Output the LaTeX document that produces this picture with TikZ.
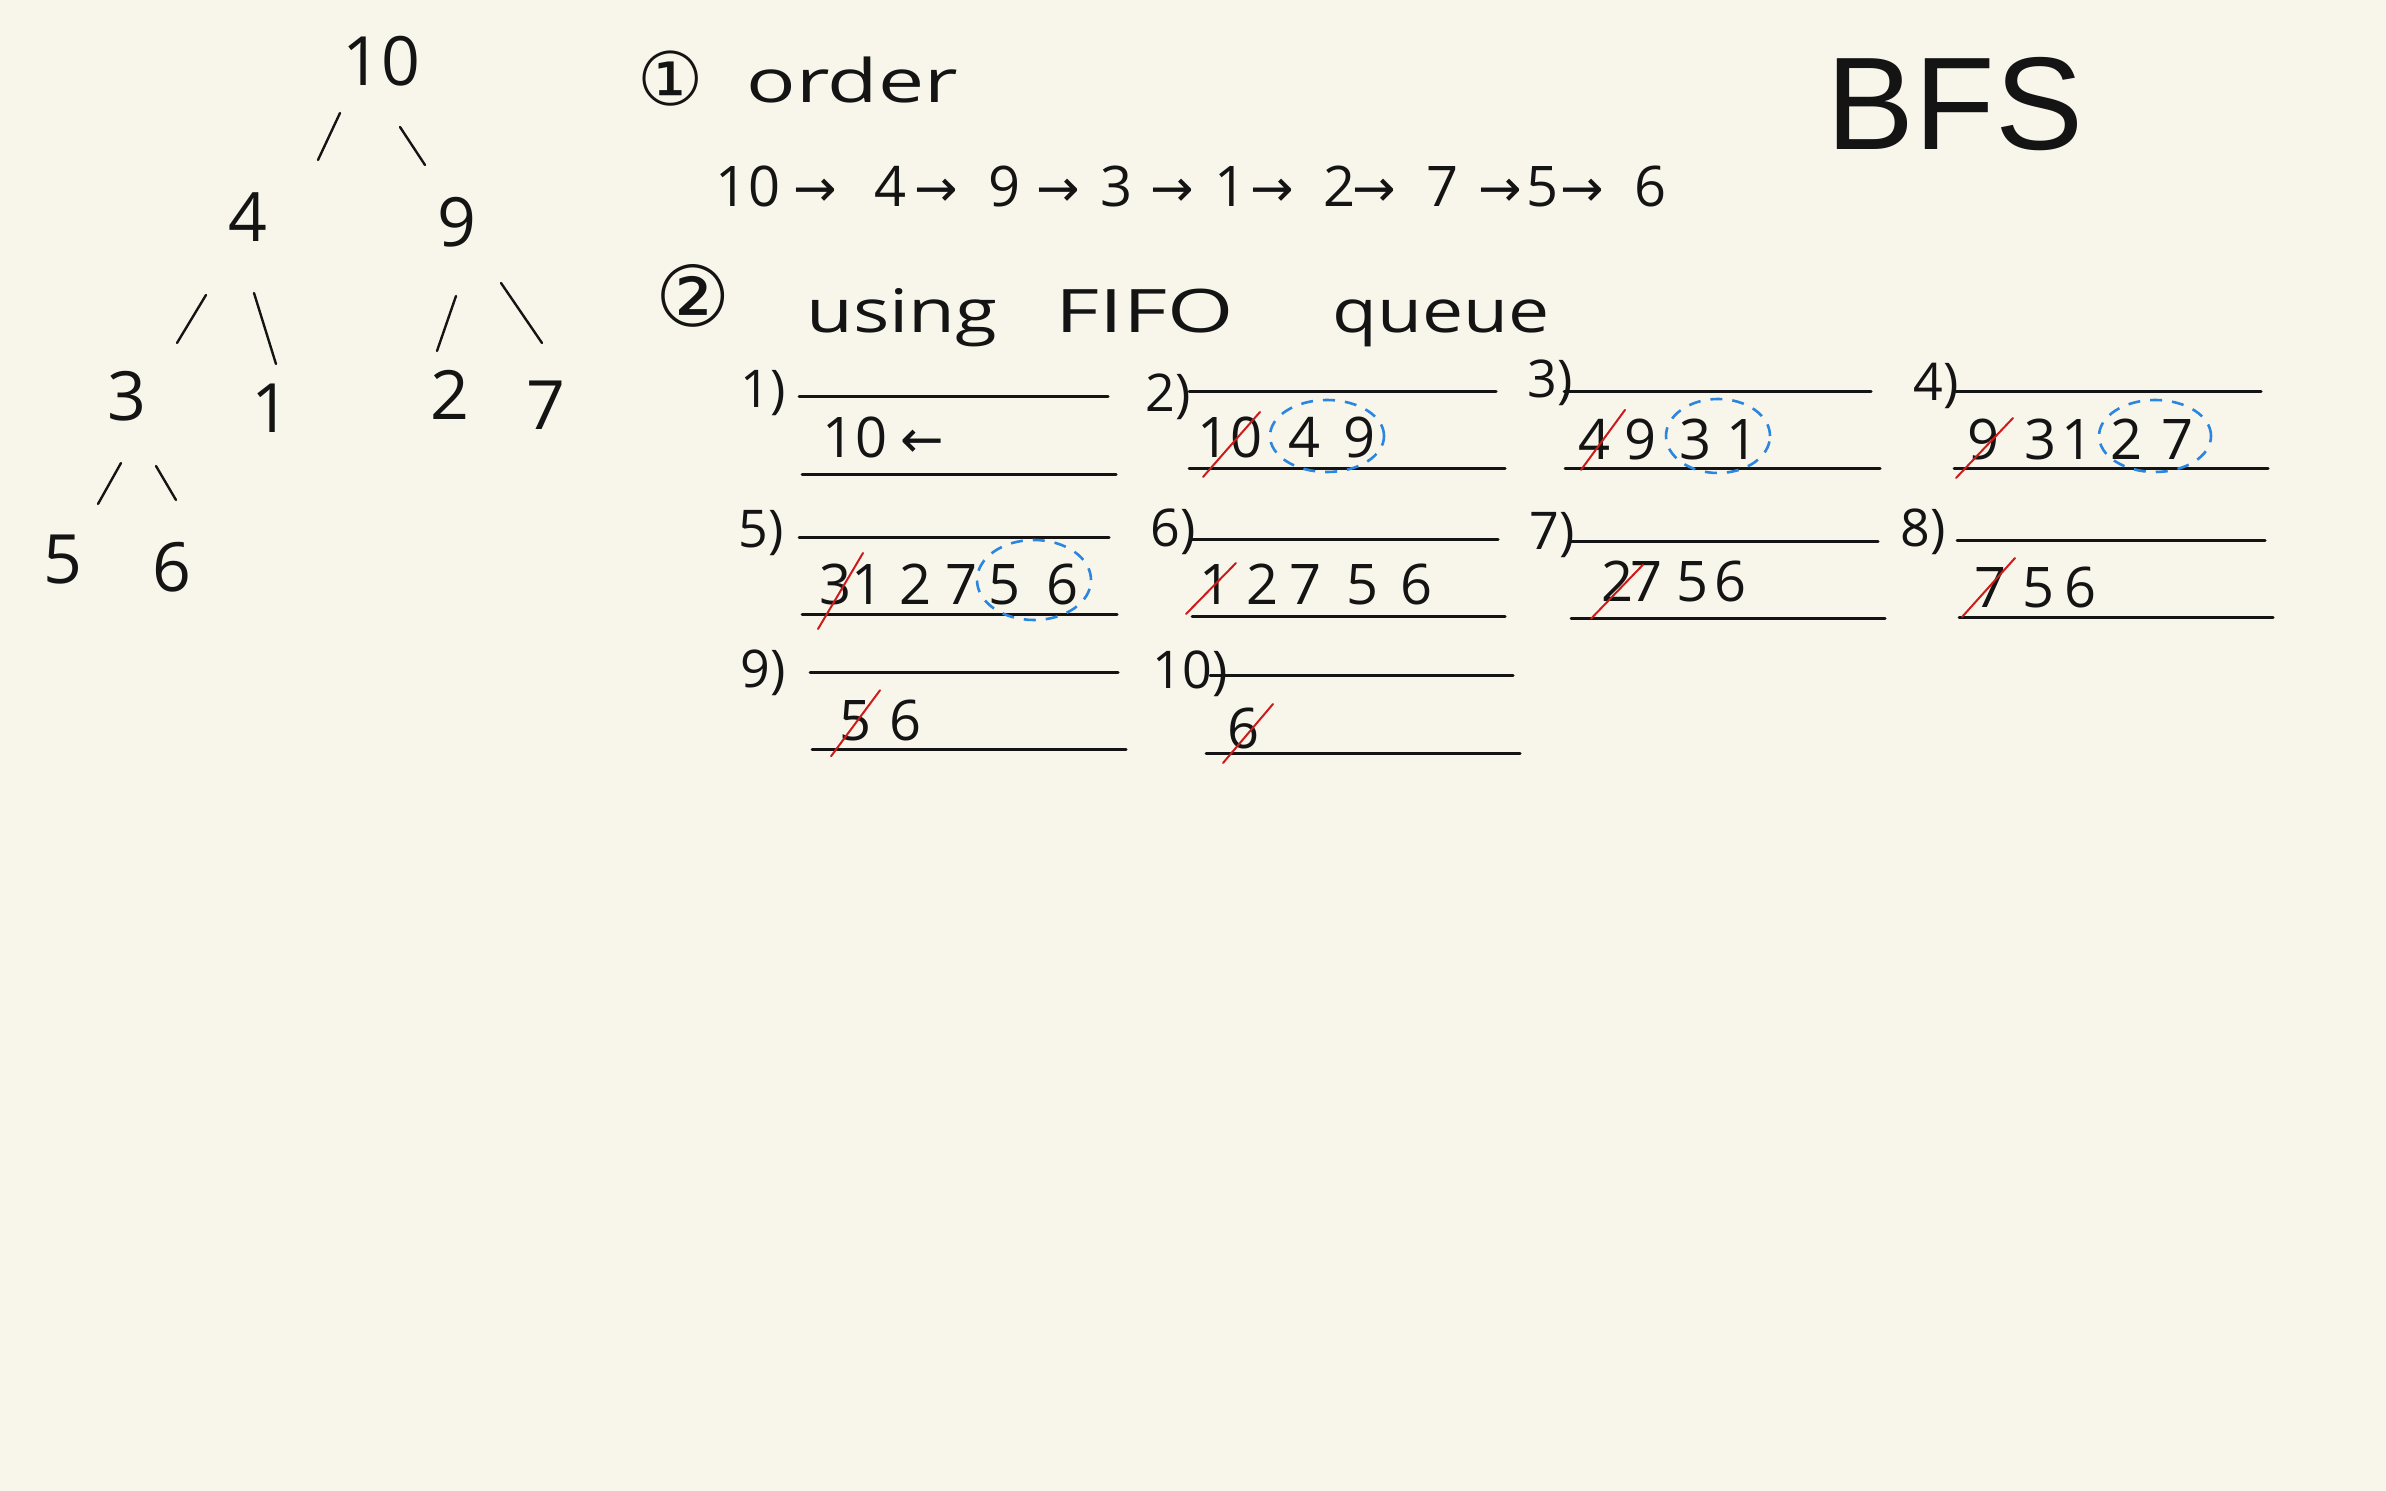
\documentclass[tikz,border=0pt]{standalone}
\usepackage{fontspec}
\setmainfont{Open Sans}
\newfontfamily\symf{DejaVu Sans}
\newfontfamily\titlef{Liberation Sans}
\usetikzlibrary{calc,shapes.geometric}
\definecolor{paper}{HTML}{F8F6EA}
\definecolor{ink}{HTML}{141414}
\definecolor{penred}{HTML}{CC1B1B}
\definecolor{penblue}{HTML}{2A86E0}
\begin{document}
\begin{tikzpicture}[x=0.5pt,y=-0.5pt,
  treenum/.style={inner sep=0pt,font=\fontsize{34}{40}\selectfont,text=ink},
  qnum/.style={inner sep=0pt,anchor=base,font=\fontsize{28}{34}\selectfont,text=ink},
  qarrow/.style={inner sep=0pt,anchor=base,font=\symf\fontsize{26}{32}\selectfont,text=ink},
  qlabel/.style={inner sep=0pt,font=\fontsize{26}{32}\selectfont,text=ink},
  word/.style={inner sep=0pt,anchor=base west,font=\fontsize{30}{36}\selectfont,text=ink},
  circnum/.style={inner sep=0pt,font=\symf\fontsize{37}{42}\selectfont,text=ink},
  qline/.style={draw=ink,line width=1.5pt,line cap=round},
  treeedge/.style={draw=ink,line width=1.2pt,line cap=round},
  strike/.style={draw=penred,line width=1pt,line cap=round},
  newitem/.style={ellipse,draw=penblue,dash pattern=on 6pt off 5pt,line width=1.3pt,inner sep=0pt},
]
\fill[paper] (0,0) rectangle (2386,1491);
\useasboundingbox (0,0) rectangle (2386,1491);

% ---------------- tree ----------------
\node[treenum] (n10) at (381,61) {10};
\node[treenum] (n4) at (248,217) {4};
\node[treenum] (n9) at (457,222) {9};
\node[treenum] (n3) at (127,396) {3};
\node[treenum] (n1) at (271,408) {1};
\node[treenum] (n2) at (450,395) {2};
\node[treenum] (n7) at (546,405) {7};
\node[treenum] (n5) at (63,560) {5};
\node[treenum] (n6) at (172,567) {6};
\draw[treeedge] ($(n10)+(-41,52)$) -- ($(n4)+(70,-57)$);
\draw[treeedge] ($(n10)+(19,66)$) -- ($(n9)+(-32,-57)$);
\draw[treeedge] ($(n4)+(-42,78)$) -- ($(n3)+(50,-53)$);
\draw[treeedge] ($(n4)+(6,76)$) -- ($(n1)+(5,-44)$);
\draw[treeedge] ($(n9)+(-1,74)$) -- ($(n2)+(-13,-44)$);
\draw[treeedge] ($(n9)+(44,61)$) -- ($(n7)+(-4,-62)$);
\draw[treeedge] ($(n3)+(-6,67)$) -- ($(n5)+(35,-56)$);
\draw[treeedge] ($(n3)+(29,70)$) -- ($(n6)+(4,-67)$);

% ---------------- title ----------------
\node[inner sep=0pt,font=\titlef\fontsize{66}{70}\selectfont,text=ink] (title) at (1955,104) {BFS};

% ---------------- (1) order ----------------
\node[circnum] (c1) at (671,79) {①};
\node[word] (worder) at (746,103) {\scalebox{1.37}[1]{order}};
\foreach \x/\t [count=\i] in {748/10,890/4,1004/9,1116/3,1230/1,1339/2,1442/7,1542/5,1650/6}
  \node[qnum] (o\i) at (\x,207) {\t};
\foreach \x [count=\i] in {815,936,1058,1172,1272,1374,1500,1582}
  \node[qarrow] (oa\i) at (\x,207) {→};

% ---------------- (2) using FIFO queue ----------------
\node[circnum,font=\symf\fontsize{42}{46}\selectfont] (c2) at (693,296) {②};
\node[word] (wusing) at (806,333) {\scalebox{1.27}[1]{using}};
\node[word] (wfifo) at (1055,333) {\scalebox{1.42}[1]{FIFO}};
\node[word] (wqueue) at (1332,333) {\scalebox{1.22}[1]{queue}};

% queue frames
\draw[qline] (799,397) -- (1108,397);  \draw[qline] (802,475) -- (1116,475);
\draw[qline] (1189,392) -- (1496,392); \draw[qline] (1189,469) -- (1505,469);
\draw[qline] (1564,392) -- (1871,392); \draw[qline] (1565,469) -- (1880,469);
\draw[qline] (1954,392) -- (2261,392); \draw[qline] (1954,469) -- (2268,469);
\draw[qline] (799,538) -- (1109,538);  \draw[qline] (802,615) -- (1117,615);
\draw[qline] (1192,540) -- (1498,540); \draw[qline] (1192,617) -- (1505,617);
\draw[qline] (1571,542) -- (1878,542); \draw[qline] (1571,619) -- (1885,619);
\draw[qline] (1957,541) -- (2265,541); \draw[qline] (1959,618) -- (2273,618);
\draw[qline] (810,672) -- (1118,672);  \draw[qline] (812,749) -- (1126,749);
\draw[qline] (1210,675) -- (1513,675); \draw[qline] (1206,753) -- (1520,753);

% step labels
\node[qlabel] (l1) at (763,393) {1)};
\node[qlabel] (l2) at (1168,397) {2)};
\node[qlabel] (l3) at (1550,383) {3)};
\node[qlabel] (l4) at (1936,386) {4)};
\node[qlabel] (l5) at (761,533) {5)};
\node[qlabel] (l6) at (1173,532) {6)};
\node[qlabel] (l7) at (1552,535) {7)};
\node[qlabel] (l8) at (1923,532) {8)};
\node[qlabel] (l9) at (763,673) {9)};
\node[qlabel] (l10) at (1190,674) {10)};

% queue contents
% 1)
\node[qnum] (q1a) at (855,458) {10};
\node[qarrow] (q1b) at (922,458) {←};
% 2)
\foreach \x/\t [count=\i] in {1230/10,1304/4,1359/9} \node[qnum] (q2d\i) at (\x,458) {\t};
\node[newitem,minimum width=57pt,minimum height=36pt] (e2) at (1327,436) {};
\draw[strike] ($(q2d1)+(-27,39)$) -- ($(q2d1)+(30,-26)$);
% 3)
\foreach \x/\t [count=\i] in {1594/4,1640/9,1695/3,1742/1} \node[qnum] (q3d\i) at (\x,460) {\t};
\node[newitem,minimum width=52pt,minimum height=37pt] (e3) at (1718,436) {};
\draw[strike] ($(q3d1)+(-13,30)$) -- ($(q3d1)+(31,-30)$);
% 4)
\foreach \x/\t [count=\i] in {1983/9,2040/3,2077/1,2126/2,2177/7} \node[qnum] (q4d\i) at (\x,460) {\t};
\node[newitem,minimum width=56pt,minimum height=36pt] (e4) at (2155,436) {};
\draw[strike] ($(q4d1)+(-27,38)$) -- ($(q4d1)+(30,-22)$);
% 5)
\foreach \x/\t [count=\i] in {835/3,867/1,915/2,961/7,1004/5,1062/6} \node[qnum] (q5d\i) at (\x,604) {\t};
\node[newitem,minimum width=57pt,minimum height=40pt] (e5) at (1034,580) {};
\draw[strike] ($(q5d1)+(-17,45)$) -- ($(q5d1)+(28,-31)$);
% 6)
\foreach \x/\t [count=\i] in {1215/1,1262/2,1305/7,1362/5,1416/6} \node[qnum] (q6d\i) at (\x,605) {\t};
\draw[strike] ($(q6d1)+(-29,29)$) -- ($(q6d1)+(21,-22)$);
% 7)
\foreach \x/\t [count=\i] in {1617/2,1646/7,1692/5,1730/6} \node[qnum] (q7d\i) at (\x,602) {\t};
\draw[strike] ($(q7d1)+(-26,37)$) -- ($(q7d1)+(26,-17)$);
% 8)
\foreach \x/\t [count=\i] in {1990/7,2038/5,2080/6} \node[qnum] (q8d\i) at (\x,608) {\t};
\draw[strike] ($(q8d1)+(-28,29)$) -- ($(q8d1)+(25,-30)$);
% 9)
\foreach \x/\t [count=\i] in {855/5,905/6} \node[qnum] (q9d\i) at (\x,740) {\t};
\draw[strike] ($(q9d1)+(-24,36)$) -- ($(q9d1)+(25,-30)$);
% 10)
\node[qnum] (q10d1) at (1243,748) {6};
\draw[strike] ($(q10d1)+(-20,35)$) -- ($(q10d1)+(30,-24)$);
\end{tikzpicture}
\end{document}
